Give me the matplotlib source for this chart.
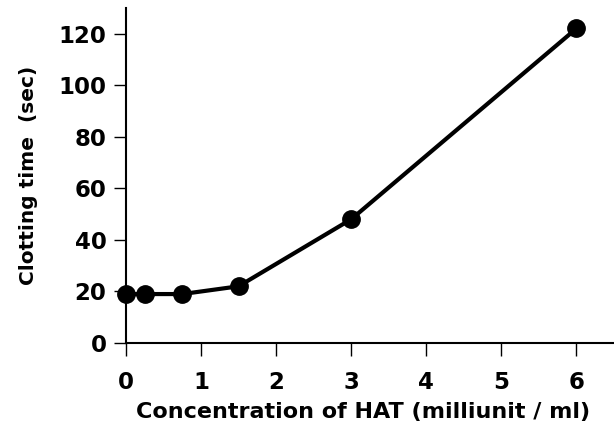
import matplotlib
matplotlib.use("Agg")
import matplotlib.pyplot as plt

# HAT concentration vs clotting time
conc = [0, 0.25, 0.75, 1.5, 3, 6]
clot_time = [19, 19, 19, 22, 48, 122]

x_ticks = [0, 1, 2, 3, 4, 5, 6]
y_ticks = [0, 20, 40, 60, 80, 100, 120]

plt.rcParams["font.family"] = "DejaVu Sans"

fig = plt.figure(figsize=(6.14, 4.37), dpi=100)
ax = fig.add_axes([0.205, 0.215, 0.795, 0.767])

ax.plot(conc, clot_time, color="black", lw=3, marker="o", ms=12.5,
        clip_on=False, zorder=3)

ax.set_xlim(0, 6.5)
ax.set_ylim(0, 130)
ax.set_xticks(x_ticks)
ax.set_yticks(y_ticks)

ax.spines["top"].set_visible(False)
ax.spines["right"].set_visible(False)
for s in ("left", "bottom"):
    ax.spines[s].set_linewidth(1.5)

ax.tick_params(axis="both", direction="out", length=9, width=1, labelsize=16.5)
ax.tick_params(axis="x", pad=11)
ax.tick_params(axis="y", pad=5)
for lab in ax.get_xticklabels() + ax.get_yticklabels():
    lab.set_fontweight("bold")

ax.set_xlabel("Concentration of HAT (milliunit / ml)", fontsize=16,
              fontweight="bold")
# nudge the x label a bit left, below the tick labels
ax.xaxis.set_label_coords(0.485, -0.175)
ax.set_ylabel("Clotting time  (sec)", fontsize=14.5, fontweight="bold",
              labelpad=15)

fig.savefig("out.png", dpi=100)
